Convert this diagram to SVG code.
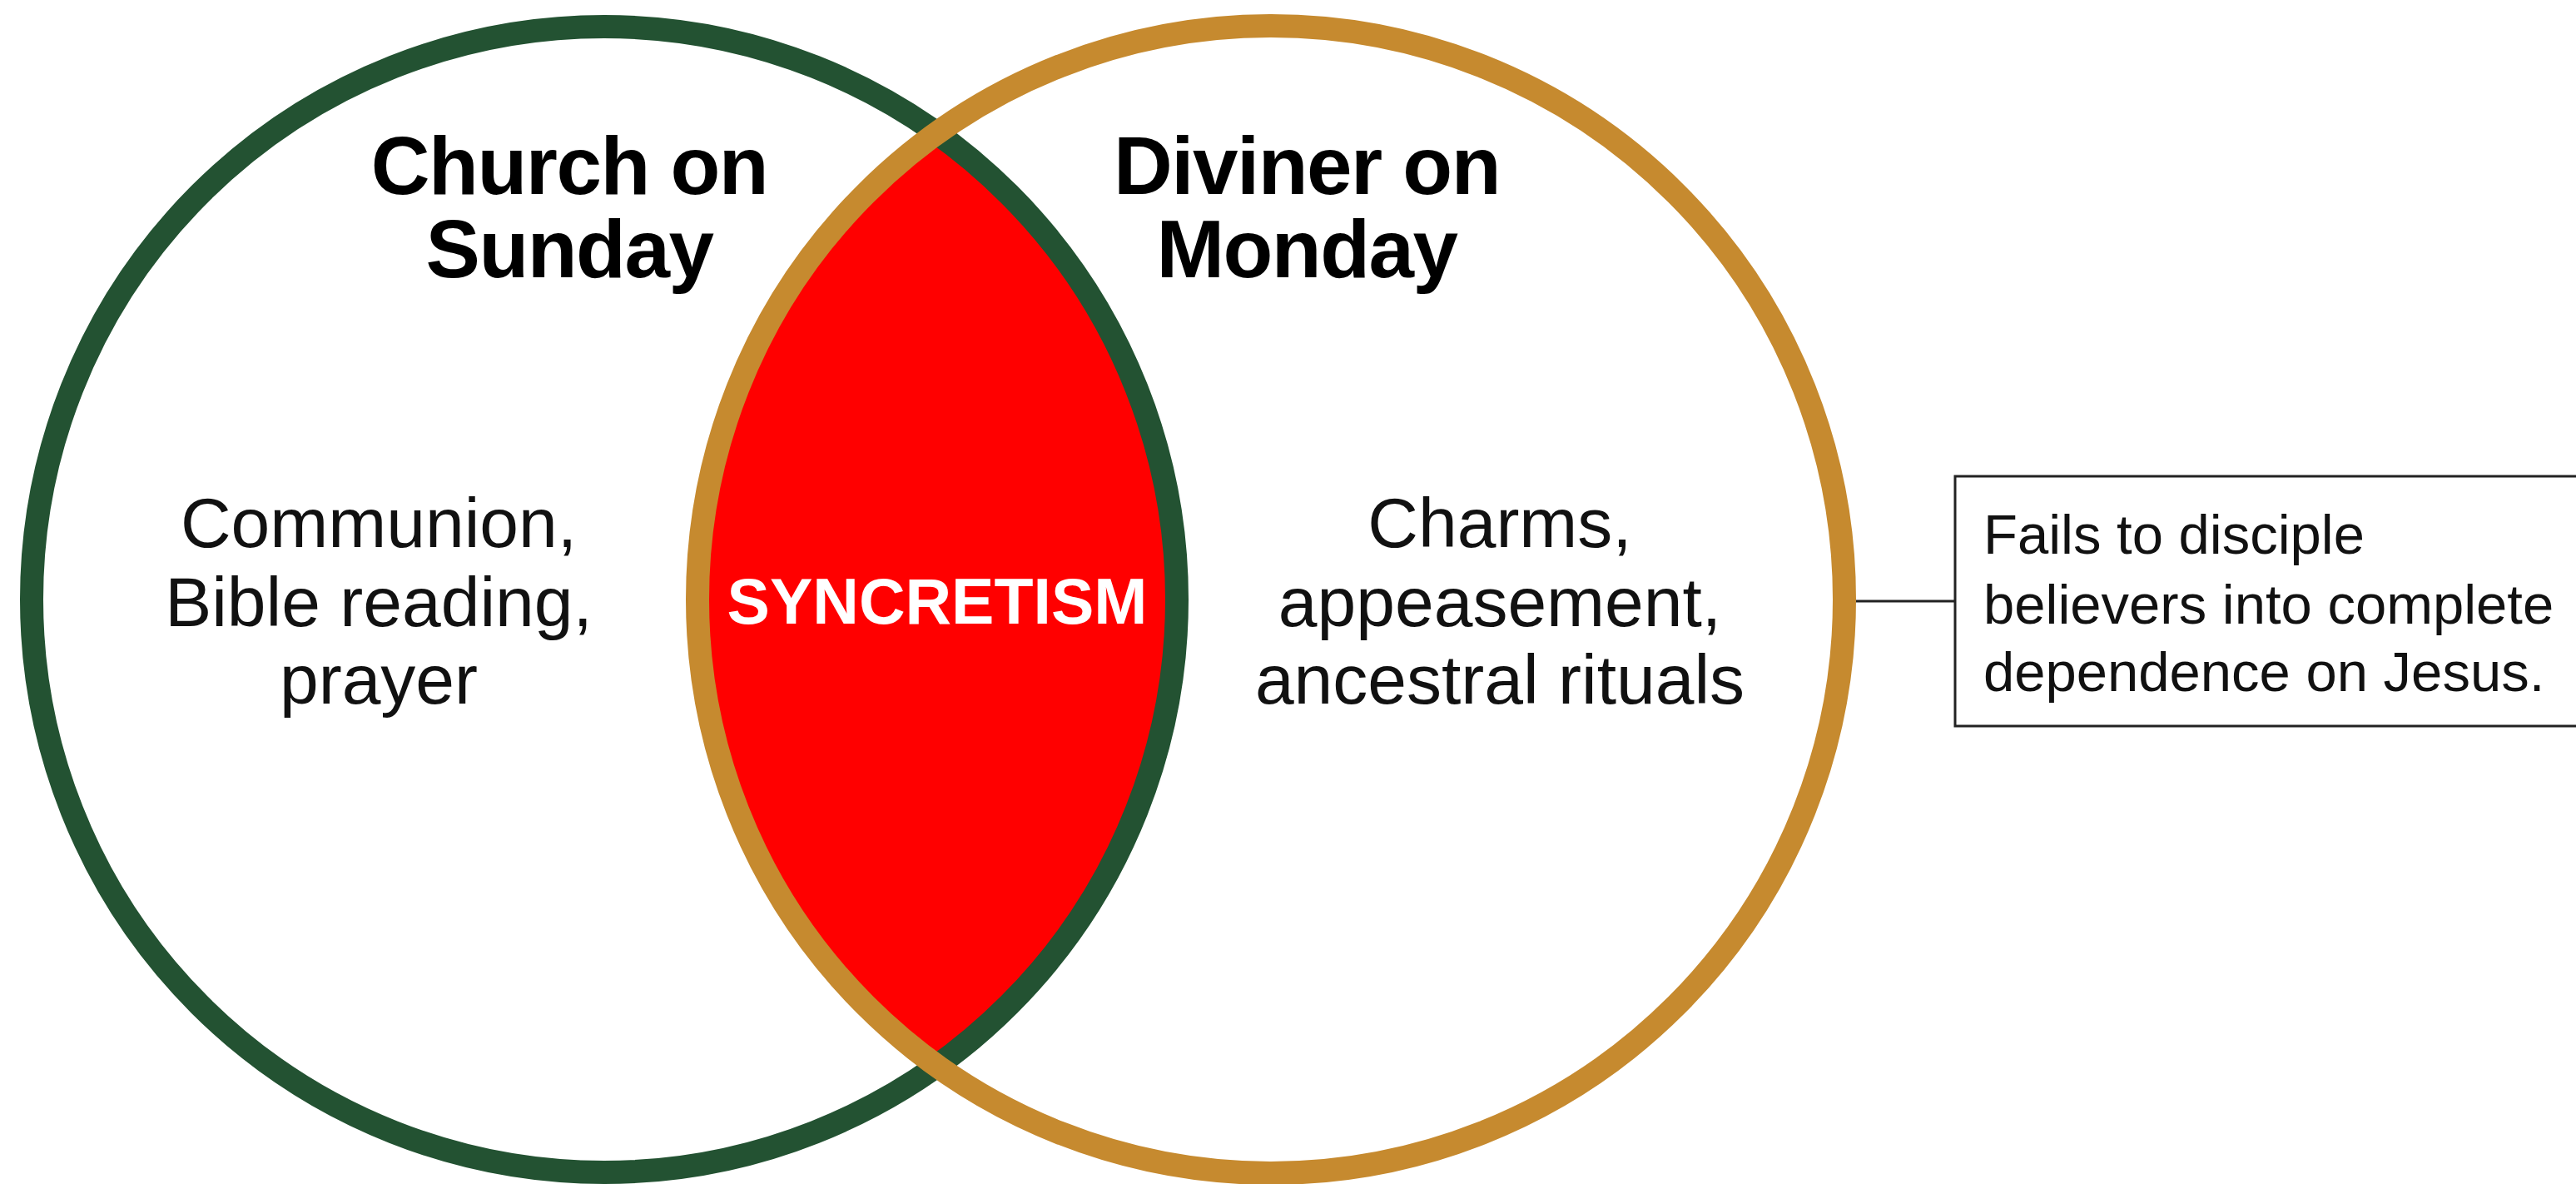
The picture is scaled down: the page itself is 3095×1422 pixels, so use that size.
<svg xmlns="http://www.w3.org/2000/svg" width="3095" height="1422" viewBox="0 0 3095 1422">
<style>
.ring{fill:none;stroke-width:28}
.head{font-family:"Liberation Sans",Arial,sans-serif;font-weight:bold;font-size:98px;fill:#000;text-anchor:middle;letter-spacing:-1.5px}
.body{font-family:"Liberation Sans",Arial,sans-serif;font-size:84px;fill:#111;text-anchor:middle}
.note{font-family:"Liberation Sans",Arial,sans-serif;font-size:67px;fill:#111}
</style>
<rect x="0" y="0" width="3095" height="1422" fill="#fff"/>
<g id="overlap">
<path d="M1126 160 A688 688 0 0 1 1126 1280 A688 688 0 0 1 1126 160 Z" fill="#ff0000"/>
</g>
<g id="church">
<circle class="ring" cx="726" cy="720" r="688" stroke="#235232"/>
<text class="head" x="684" y="233">Church on</text>
<text class="head" x="684" y="333">Sunday</text>
<text class="body" x="455" y="657">Communion,</text>
<text class="body" x="455" y="752">Bible reading,</text>
<text class="body" x="455" y="845">prayer</text>
</g>
<g id="diviner">
<circle class="ring" cx="1527" cy="720" r="689" stroke="#c68a2f"/>
<text class="head" x="1570" y="233">Diviner on</text>
<text class="head" x="1570" y="333">Monday</text>
<text class="body" x="1802" y="657">Charms,</text>
<text class="body" x="1802" y="752">appeasement,</text>
<text class="body" x="1802" y="845">ancestral rituals</text>
</g>
<g id="syncretism-label">
<text x="1126" y="749" font-family="'Liberation Sans',Arial,sans-serif" font-weight="bold" font-size="77" fill="#fff" text-anchor="middle">SYNCRETISM</text>
</g>
<g id="connectors">
<line x1="2230" y1="722" x2="2349" y2="722" stroke="#222" stroke-width="3"/>
</g>
<g id="note">
<rect x="2349" y="572" width="780" height="300" fill="#fff" stroke="#222" stroke-width="3"/>
<text class="note" x="2383" y="665">Fails to disciple</text>
<text class="note" x="2383" y="749">believers into complete</text>
<text class="note" x="2383" y="830">dependence on Jesus.</text>
</g>
</svg>
